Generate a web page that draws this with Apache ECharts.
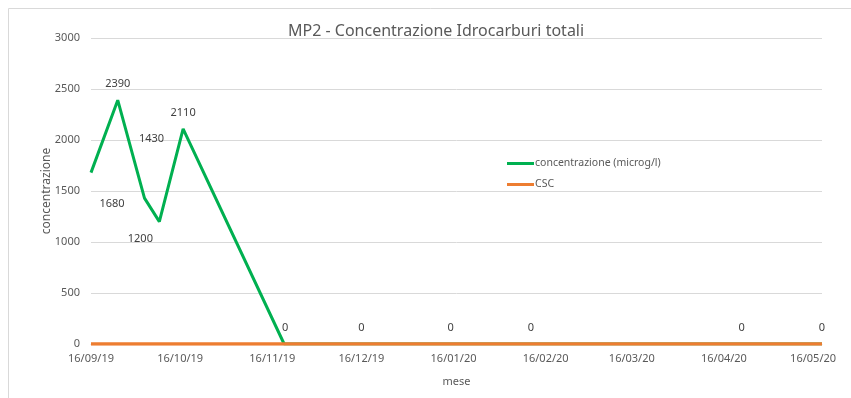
<!DOCTYPE html>
<html>
<head>
<meta charset="utf-8">
<script src="https://cdn.jsdelivr.net/npm/echarts@6/dist/echarts.min.js"></script>
<style>
  html, body {margin: 0; padding: 0; background: #fff;}
  #chart {width: 851px; height: 398px;}
</style>
</head>
<body>
<div id="chart"></div>
<script>
// dati
const dates = ['2019-09-16', '2019-09-25', '2019-10-04', '2019-10-09', '2019-10-17', '2019-11-20',
  '2019-12-16', '2020-01-15', '2020-02-11', '2020-04-22', '2020-05-19']
const concentrazione = [1680, 2390, 1430, 1200, 2110, 0, 0, 0, 0, 0, 0]
const csc = [0, 0, 0, 0, 0, 0, 0, 0, 0, 0, 0]
const tickDates = ['2019-09-16', '2019-10-16', '2019-11-16', '2019-12-16', '2020-01-16',
  '2020-02-16', '2020-03-16', '2020-04-16', '2020-05-16']

// spostamento etichette (solo stile)
const labelOffsets = [[21, 31], [0, -16], [7, -59], [-19, 17], [0, -16], [1, -16],
  [0, -16], [0, -16], [0, -16], [0, -16], [0, -16]]

;(function () {
  const FONT = 'Noto Sans', GREY = '#595959'
  const t0 = Date.parse(dates[0])
  const day = d => Math.round((Date.parse(d) - t0) / 864e5)
  const fmt = d => { const [y, m, g] = d.split('-'); return `${g}/${m}/${y.slice(2)}` }
  const tickDays = tickDates.map(day)

  const chart = echarts.init(document.getElementById('chart'))
  const option = {
    animation: false,
    textStyle: {fontFamily: FONT},
    graphic: [{
      type: 'rect', silent: true,
      shape: {x: 8.5, y: 8.5, width: 860, height: 420},
      style: {fill: 'none', stroke: '#d9d9d9', lineWidth: 1},
    }],
    title: {
      text: 'MP2 - Concentrazione Idrocarburi totali', left: 283, top: 18,
      textStyle: {fontFamily: FONT, fontSize: 16, fontWeight: 'normal', color: GREY},
    },
    grid: {left: 91, right: 29, top: 38, bottom: 54},
    legend: {
      orient: 'vertical', left: 507, top: 158, itemGap: 10, icon: 'rect', padding: 0,
      itemWidth: 27, itemHeight: 3,
      textStyle: {fontFamily: FONT, fontSize: 10.5, color: GREY, padding: [0, 0, 0, -4], height: 14},
      data: ['concentrazione (microg/l)', 'CSC'],
    },
    xAxis: {
      type: 'value', min: 0, max: day(dates[dates.length - 1]),
      name: 'mese', nameLocation: 'middle', nameGap: 32, nameMoveOverlap: false,
      nameTextStyle: {fontFamily: FONT, fontSize: 11, color: GREY},
      axisLine: {show: true, lineStyle: {color: '#d9d9d9'}},
      axisTick: {show: false},
      splitLine: {show: false},
      axisLabel: {
        customValues: tickDays, margin: 9, fontSize: 11, color: GREY, fontFamily: FONT,
        formatter: v => { const i = tickDays.indexOf(v); return i >= 0 ? fmt(tickDates[i]) : '' },
      },
    },
    yAxis: {
      type: 'value', min: 0, max: 3000, interval: 500,
      name: 'concentrazione', nameLocation: 'middle', nameGap: 38, nameMoveOverlap: false,
      nameTextStyle: {fontFamily: FONT, fontSize: 12, color: GREY},
      axisLine: {show: false}, axisTick: {show: false},
      splitLine: {lineStyle: {color: '#d9d9d9', width: 1}},
      axisLabel: {margin: 11, fontSize: 11, color: GREY, fontFamily: FONT, formatter: v => String(v)},
    },
    series: [{
      name: 'concentrazione (microg/l)', type: 'line',
      symbol: 'circle', symbolSize: 0, showSymbol: true,
      lineStyle: {color: '#00b050', width: 3},
      itemStyle: {color: '#00b050'},
      data: dates.map((d, i) => ({
        value: [day(d), concentrazione[i]],
        label: {show: true, position: 'inside', offset: labelOffsets[i]},
      })),
      label: {fontFamily: FONT, fontSize: 11, color: '#404040', formatter: p => p.value[1]},
      z: 2,
    }, {
      name: 'CSC', type: 'line', symbol: 'none',
      lineStyle: {color: '#ed7d31', width: 3.4},
      itemStyle: {color: '#ed7d31'},
      data: dates.map((d, i) => [day(d), csc[i]]),
      z: 3,
    }],
  }
  chart.setOption(option)
})()
</script>
</body>
</html>
